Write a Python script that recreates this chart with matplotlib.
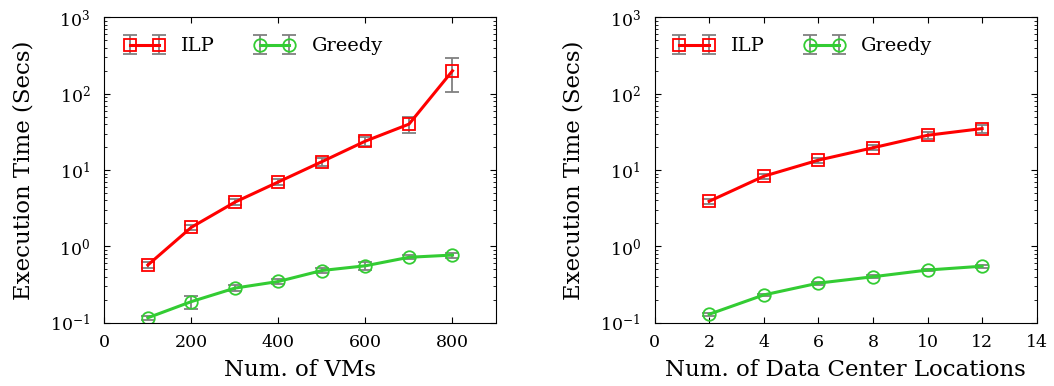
import numpy as np
import matplotlib.pyplot as plt

plt.rcParams['font.family'] = 'DejaVu Serif'
plt.rcParams['mathtext.fontset'] = 'dejavuserif'

# left panel: number of VMs
vms = [100, 200, 300, 400, 500, 600, 700, 800]
ilp_vm = [0.57, 1.78, 3.8, 7.0, 12.9, 24, 40, 200]
ilp_vm_err = [0.05, 0.15, 0.35, 0.6, 1.5, 3.5, 9, 95]
greedy_vm = [0.116, 0.189, 0.284, 0.347, 0.483, 0.557, 0.72, 0.77]
greedy_vm_err = [0.008, 0.036, 0.025, 0.03, 0.04, 0.06, 0.04, 0.06]

# right panel: number of data center locations
dcs = [2, 4, 6, 8, 10, 12]
ilp_dc = [3.9, 8.3, 13.5, 19.6, 28.6, 35]
ilp_dc_err = [0.3, 0.6, 1.0, 1.5, 3.0, 4.0]
greedy_dc = [0.129, 0.231, 0.33, 0.40, 0.49, 0.55]
greedy_dc_err = [0.006, 0.01, 0.015, 0.02, 0.02, 0.025]

RED = '#ff0000'
GREEN = '#33cc33'
ERR = '#808080'


def draw(ax, x, ilp, ilp_err, greedy, greedy_err, xlabel, xlim, xticks):
    ax.errorbar(x, ilp, yerr=ilp_err, color=RED, ecolor=ERR, lw=2.2,
                marker='s', ms=9, mfc='none', mec=RED, mew=1.3,
                elinewidth=1.3, capsize=5, capthick=1.3, label='ILP')
    ax.errorbar(x, greedy, yerr=greedy_err, color=GREEN, ecolor=ERR, lw=2.2,
                marker='o', ms=9, mfc='none', mec=GREEN, mew=1.3,
                elinewidth=1.3, capsize=5, capthick=1.3, label='Greedy')
    ax.set_yscale('log')
    ax.set_ylim(0.1, 1000)
    ax.set_xlim(*xlim)
    ax.set_xticks(xticks)
    ax.tick_params(which='both', direction='in', top=True, right=True,
                   labelsize=12.5)
    ax.tick_params(which='major', length=4.5)
    ax.tick_params(which='minor', length=2.5)
    ax.tick_params(axis='x', pad=8)
    ax.tick_params(axis='y', pad=10)
    ax.set_xlabel(xlabel, fontsize=16.5, labelpad=6)
    ax.set_ylabel('Execution Time (Secs)', fontsize=16.5, labelpad=11)
    ax.legend(loc='center left', bbox_to_anchor=(0.05, 0.905), ncol=2,
              frameon=False, numpoints=2, fontsize=14, handlelength=2.1,
              handletextpad=0.85, columnspacing=2.0, borderpad=0,
              borderaxespad=0)


fig = plt.figure(figsize=(10.54, 3.86), dpi=100)
ax1 = fig.add_axes([0.099, 0.164, 0.3716, 0.7907])
ax2 = fig.add_axes([0.621, 0.164, 0.3626, 0.7907])

draw(ax1, vms, ilp_vm, ilp_vm_err, greedy_vm, greedy_vm_err,
     'Num. of VMs', (0, 900), [0, 200, 400, 600, 800])
draw(ax2, dcs, ilp_dc, ilp_dc_err, greedy_dc, greedy_dc_err,
     'Num. of Data Center Locations', (0, 14), range(0, 15, 2))

fig.savefig('out.png', dpi=100)
